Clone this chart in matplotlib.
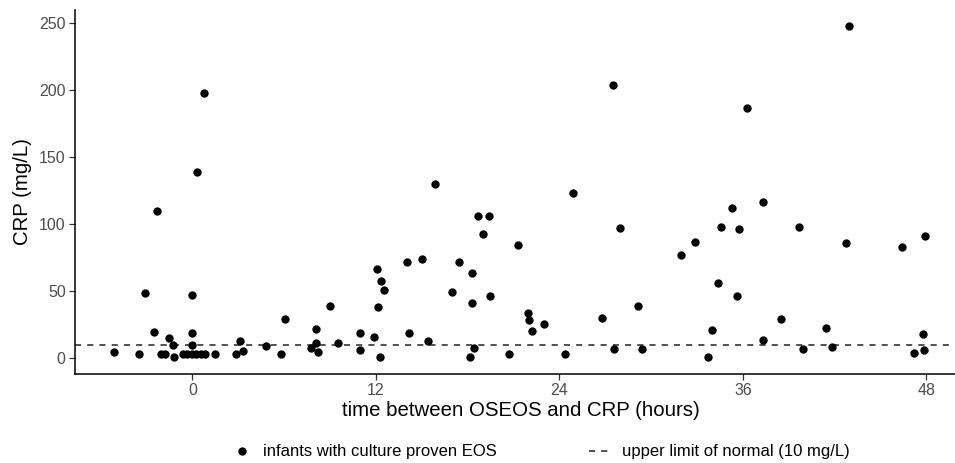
import numpy as np
import matplotlib
matplotlib.use("Agg")
import matplotlib.pyplot as plt
from matplotlib.lines import Line2D

# hours between onset of EOS symptoms and CRP sample
hours = [
    -5.1, -3.5, -3.1, -2.5, -2.3, -2.05, -1.8, -1.5, -1.25, -1.2,
    -0.6, -0.35, -0.05, 0.0, 0.0, 0.0, 0.23, 0.27, 0.54, 0.75,
    0.84, 1.45, 2.82, 3.1, 3.32, 4.79, 5.78, 6.08, 7.73, 8.1,
    8.1, 8.2, 8.97, 9.5, 10.97, 10.98, 11.87, 12.09, 12.11, 12.26,
    12.31, 12.5, 14.01, 14.16, 14.99, 15.4, 15.86, 16.97, 17.41, 18.15,
    18.26, 18.28, 18.4, 18.67, 18.98, 19.37, 19.48, 20.7, 21.29, 21.92,
    22.0, 22.2, 22.97, 24.38, 24.87, 26.8, 27.52, 27.59, 27.94, 29.16,
    29.4, 31.95, 32.86, 33.7, 33.96, 34.35, 34.57, 35.3, 35.61, 35.74,
    36.25, 37.29, 37.31, 38.47, 39.65, 39.95, 41.43, 41.84, 42.72, 42.96,
    46.42, 47.17, 47.8, 47.86, 47.93,
]
crp = [
    4.8, 3.4, 49.0, 19.4, 110.1, 3.4, 3.4, 15.3, 10.1, 0.7,
    3.4, 3.4, 3.4, 10.2, 18.6, 47.2, 3.4, 139.3, 3.4, 198.2,
    3.4, 3.4, 3.3, 13.0, 5.6, 9.2, 3.3, 29.3, 7.9, 21.9,
    11.2, 4.5, 39.3, 11.2, 5.9, 19.1, 15.9, 66.9, 38.3, 1.0,
    57.9, 51.2, 72.1, 19.1, 74.1, 13.2, 130.1, 49.3, 71.6, 1.0,
    63.9, 41.5, 7.4, 106.4, 92.5, 106.4, 46.7, 3.4, 84.8, 34.0,
    28.6, 20.1, 25.5, 3.4, 123.6, 29.9, 204.0, 6.7, 97.0, 39.3,
    6.7, 77.1, 86.6, 0.7, 21.1, 56.2, 97.8, 112.4, 46.5, 96.3,
    187.0, 116.9, 13.9, 29.3, 98.2, 6.9, 22.4, 8.4, 86.3, 247.8,
    83.1, 4.2, 18.1, 6.4, 91.3,
]
upper_limit = 10  # mg/L

x_ticks = [0, 12, 24, 36, 48]
y_ticks = [0, 50, 100, 150, 200, 250]

plt.rcParams["font.family"] = ["Liberation Sans", "DejaVu Sans"]

fig = plt.figure(figsize=(9.55, 4.63), dpi=100)
ax = fig.add_axes([0.0782, 0.1922, 0.935, 0.786])

ax.scatter(hours, crp, s=36, color="black", linewidths=0, zorder=3)
ax.axhline(upper_limit, color="#222222", lw=1.1, dashes=(4, 4), zorder=2)

ax.set_xlim(-7.7, 50.7)
ax.set_ylim(-11.7, 260)
ax.set_xticks(x_ticks)
ax.set_yticks(y_ticks)

for side in ["top", "right"]:
    ax.spines[side].set_visible(False)
for side in ["left", "bottom"]:
    ax.spines[side].set_linewidth(1.1)
    ax.spines[side].set_color("black")

ax.tick_params(length=4, width=0.9, color="#333333", labelcolor="#4d4d4d",
               labelsize=11.5, pad=2.5)

ax.set_xlabel("time between OSEOS and CRP (hours)", fontsize=14.7, labelpad=2)
ax.set_ylabel("CRP (mg/L)", fontsize=14.7, labelpad=5)

handles = [
    Line2D([], [], marker="o", linestyle="none", color="black",
           markersize=6, markeredgewidth=0),
    Line2D([], [], color="#222222", lw=1.1, dashes=(4, 4)),
]
labels = ["infants with culture proven EOS", "upper limit of normal (10 mg/L)"]
fig.legend(handles, labels, loc="center", bbox_to_anchor=(0.5655, 0.024),
           ncol=2, frameon=False, fontsize=12, handlelength=1.4,
           handletextpad=0.6, columnspacing=5.5)

fig.savefig("out.png", dpi=100)
